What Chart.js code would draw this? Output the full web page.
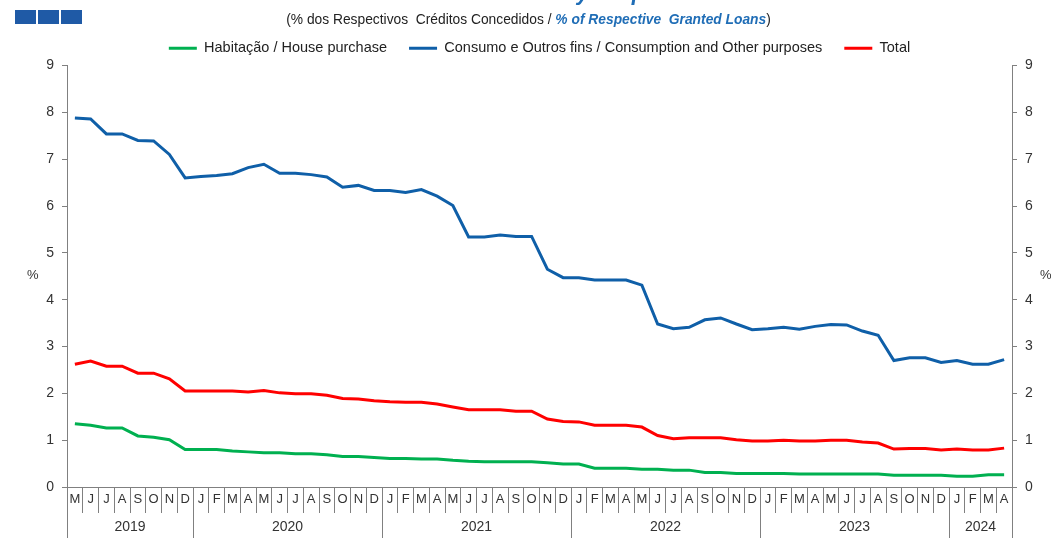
<!DOCTYPE html>
<html>
<head>
<meta charset="utf-8">
<script src="https://cdn.jsdelivr.net/npm/chart.js@4.4.0/dist/chart.umd.min.js"></script>
<style>
  html, body { margin: 0; padding: 0; background: #fff; }
  #wrap { position: relative; width: 1051px; height: 538px; overflow: hidden; font-family: "Liberation Sans", Arial, sans-serif; }
  canvas { position: absolute; left: 0; top: 0; }
  .sq { position: absolute; top: 10px; width: 21px; height: 14px; background: #1f5aa6; }
  #title { position: absolute; left: 0; width: 1080px; top: -19px; text-align: center; font-size: 22px; line-height: 24px; font-weight: bold; font-style: italic; color: #1f6db6; white-space: nowrap; }
  #subtitle { position: absolute; left: 0; width: 1057px; top: 12px; text-align: center; font-size: 13.8px; color: #222; white-space: pre; }
  #subtitle .en { color: #1f6db6; font-weight: bold; font-style: italic; }
  .pct { position: absolute; top: 267px; font-size: 13px; color: #333; }
</style>
</head>
<body>
<div id="wrap">
  <canvas id="c" width="1051" height="538"></canvas>
  <div class="sq" style="left:15px"></div>
  <div class="sq" style="left:38px"></div>
  <div class="sq" style="left:61px"></div>
  <div id="title">Overdue Loans by Purpose</div>
  <div id="subtitle">(% dos Respectivos  Créditos Concedidos / <span class="en">% of Respective  Granted Loans</span>)</div>
  <div class="pct" style="left:27px">%</div>
  <div class="pct" style="left:1040px">%</div>
</div>
<script>
// ---- data ----
const months = [
  "M","J","J","A","S","O","N","D",
  "J","F","M","A","M","J","J","A","S","O","N","D",
  "J","F","M","A","M","J","J","A","S","O","N","D",
  "J","F","M","A","M","J","J","A","S","O","N","D",
  "J","F","M","A","M","J","J","A","S","O","N","D",
  "J","F","M","A"
];
const years = ["2019","2020","2021","2022","2023","2024"];
const yearMonthCounts = [8, 12, 12, 12, 12, 4];
const yTicks = [0,1,2,3,4,5,6,7,8,9];

const housing = [
  1.35, 1.32, 1.26, 1.26, 1.09, 1.06, 1.01, 0.80,
  0.80, 0.80, 0.77, 0.75, 0.73, 0.73, 0.71, 0.71, 0.69, 0.65, 0.65, 0.63,
  0.61, 0.61, 0.60, 0.60, 0.57, 0.55, 0.54, 0.54, 0.54, 0.54, 0.52, 0.49,
  0.49, 0.40, 0.40, 0.40, 0.38, 0.38, 0.36, 0.36, 0.31, 0.31, 0.29, 0.29,
  0.29, 0.29, 0.28, 0.28, 0.28, 0.28, 0.28, 0.28, 0.25, 0.25, 0.25, 0.25,
  0.23, 0.23, 0.26, 0.26
];
const consumption = [
  7.88, 7.86, 7.54, 7.54, 7.40, 7.39, 7.10, 6.60,
  6.63, 6.65, 6.69, 6.82, 6.89, 6.70, 6.70, 6.67, 6.62, 6.40, 6.44, 6.33,
  6.33, 6.29, 6.35, 6.21, 6.01, 5.34, 5.34, 5.38, 5.35, 5.35, 4.65, 4.47,
  4.47, 4.42, 4.42, 4.42, 4.31, 3.48, 3.38, 3.41, 3.57, 3.61, 3.48, 3.36,
  3.38, 3.41, 3.37, 3.43, 3.47, 3.46, 3.33, 3.24, 2.70, 2.76, 2.76, 2.66,
  2.70, 2.62, 2.62, 2.72
];
const total = [
  2.62, 2.69, 2.58, 2.58, 2.43, 2.43, 2.31, 2.05,
  2.05, 2.05, 2.05, 2.03, 2.06, 2.01, 1.99, 1.99, 1.96, 1.89, 1.88, 1.84,
  1.82, 1.81, 1.81, 1.77, 1.71, 1.65, 1.65, 1.65, 1.62, 1.62, 1.45, 1.40,
  1.39, 1.32, 1.32, 1.32, 1.28, 1.10, 1.03, 1.05, 1.05, 1.05, 1.01, 0.98,
  0.98, 1.00, 0.98, 0.98, 1.00, 1.00, 0.96, 0.94, 0.81, 0.82, 0.82, 0.79,
  0.81, 0.79, 0.79, 0.83
];
const seriesNames = [
  "Habitação / House purchase",
  "Consumo e Outros fins / Consumption and Other purposes",
  "Total"
];

// ---- derived year ticks for the second x axis ----
const yearBoundaries = [-0.5];
const yearCenters = {};
{
  let start = 0;
  yearMonthCounts.forEach((n, i) => {
    yearCenters[(start + (n - 1) / 2).toFixed(1)] = years[i];
    start += n;
    yearBoundaries.push(start - 0.5);
  });
}
const yearTickValues = yearBoundaries.concat(Object.keys(yearCenters).map(Number)).sort((a, b) => a - b);

const FONT = "'Liberation Sans', Arial, sans-serif";
const AXIS = '#808080';

new Chart(document.getElementById('c'), {
  type: 'line',
  data: {
    labels: months,
    datasets: [
      { label: seriesNames[0], data: housing, borderColor: '#00b050', backgroundColor: '#00b050' },
      { label: seriesNames[1], data: consumption, borderColor: '#0f5fa8', backgroundColor: '#0f5fa8' },
      { label: seriesNames[2], data: total, borderColor: '#ff0000', backgroundColor: '#ff0000' }
    ]
  },
  options: {
    responsive: false,
    animation: false,
    layout: { padding: { top: 19, left: 0, right: 0, bottom: 0 } },
    elements: { point: { radius: 0 }, line: { borderWidth: 3, tension: 0 } },
    plugins: {
      tooltip: { enabled: false },
      legend: {
        position: 'top',
        fullSize: false,
        maxHeight: 48,
        labels: {
          boxWidth: 28, boxHeight: 3, padding: 22,
          color: '#222', font: { family: FONT, size: 14.5 },
          generateLabels: (chart) => {
            const items = Chart.defaults.plugins.legend.labels.generateLabels(chart);
            items.forEach(it => { it.lineWidth = 0; it.strokeStyle = 'rgba(0,0,0,0)'; });
            return items;
          }
        }
      }
    },
    scales: {
      x: {
        type: 'category',
        offset: true,
        border: { color: AXIS, width: 1 },
        grid: { offset: true, drawOnChartArea: false, tickLength: 26, color: AXIS },
        ticks: { autoSkip: false, maxRotation: 0, minRotation: 0, padding: -21, color: '#333', font: { family: FONT, size: 13 } },
        afterFit: (s) => { s.height = 26; }
      },
      x2: {
        type: 'linear',
        position: 'bottom',
        min: -0.5, max: 59.5,
        offset: false,
        border: { display: false },
        afterBuildTicks: (s) => { s.ticks = yearTickValues.map(v => ({ value: v })); },
        grid: {
          drawOnChartArea: false, tickLength: 25,
          color: (ctx) => (ctx.tick && yearBoundaries.includes(ctx.tick.value)) ? AXIS : 'rgba(0,0,0,0)'
        },
        ticks: {
          autoSkip: false, maxRotation: 0, padding: -19, color: '#333', font: { family: FONT, size: 14 },
          callback: (v) => yearCenters[Number(v).toFixed(1)] || ''
        },
        afterFit: (s) => { s.height = 25; }
      },
      y: {
        position: 'left', min: 0, max: 9,
        afterBuildTicks: (s) => { s.ticks = yTicks.map(v => ({ value: v })); },
        border: { color: AXIS },
        grid: { drawOnChartArea: false, tickLength: 5, color: AXIS },
        ticks: { padding: 8, color: '#333', font: { family: FONT, size: 14 } },
        afterFit: (s) => { s.width = 67; }
      },
      y1: {
        position: 'right', min: 0, max: 9,
        afterBuildTicks: (s) => { s.ticks = yTicks.map(v => ({ value: v })); },
        border: { color: AXIS },
        grid: { drawOnChartArea: false, tickLength: 5, color: AXIS },
        ticks: { padding: 8, color: '#333', font: { family: FONT, size: 14 } },
        afterFit: (s) => { s.width = 39; }
      }
    }
  }
});
</script>
</body>
</html>
